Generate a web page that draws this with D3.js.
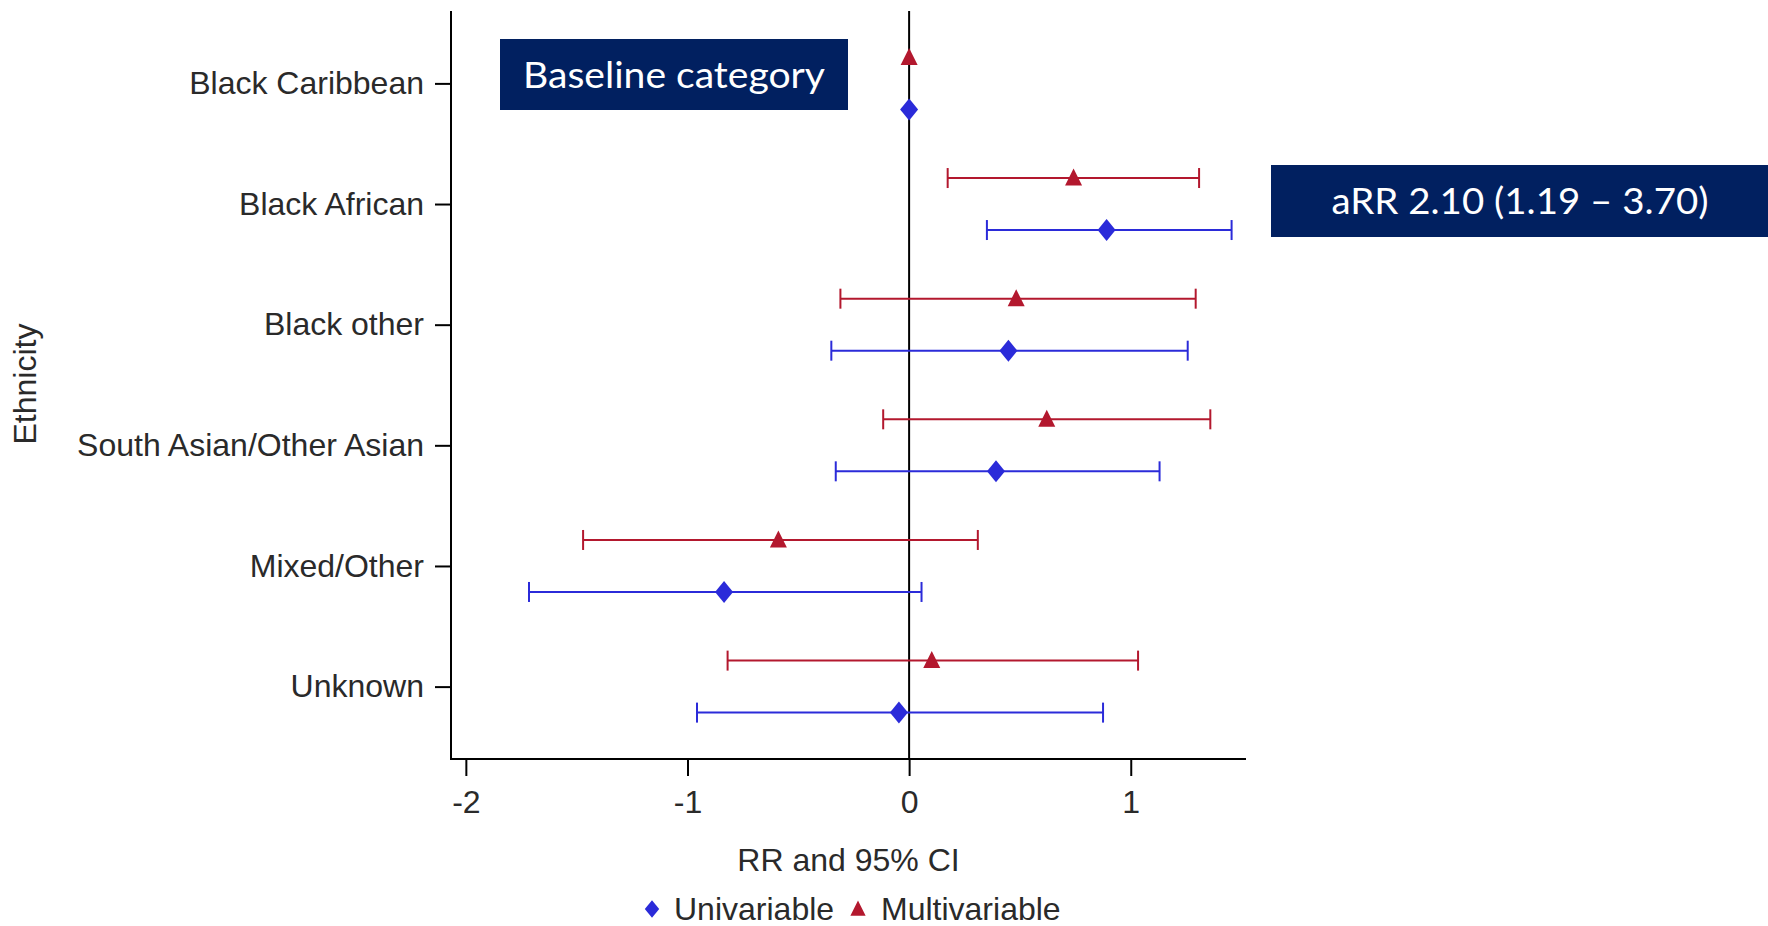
<!DOCTYPE html>
<html>
<head>
<meta charset="utf-8">
<script src="https://cdn.jsdelivr.net/npm/d3@7"></script>
<style>
  html, body { margin: 0; padding: 0; background: #fff; }
  svg { display: block; }
</style>
</head>
<body>
<svg id="chart" width="1768" height="926"></svg>
<script>
// Ethnicity categories (top to bottom)
const categories = ["Black Caribbean", "Black African", "Black other",
                    "South Asian/Other Asian", "Mixed/Other", "Unknown"];

// log RR estimates with 95% CI bounds; baseline has no interval
const uniEst = [0, 0.891, 0.448, 0.392, -0.835, -0.046];
const uniLo  = [null, 0.351, -0.351, -0.331, -1.715, -0.957];
const uniHi  = [null, 1.455, 1.257, 1.130, 0.056, 0.875];

const multiEst = [0, Math.log(2.10), 0.483, 0.621, -0.590, 0.102];
const multiLo  = [null, Math.log(1.19), -0.310, -0.117, -1.471, -0.819];
const multiHi  = [null, Math.log(3.70), 1.293, 1.359, 0.310, 1.033];

const xTicks = [-2, -1, 0, 1];
const xDomain = [-2.067, 1.52];

const seriesNames = ["Univariable", "Multivariable"];
const baselineNote = "Baseline category";
const aRRNote = "aRR 2.10 (1.19 \u2013 3.70)";

const blue = "#2b2bd9";
const red = "#b3182e";
const navy = "#012060";
const textColor = "#2a2a2a";
const axisFont = "'Liberation Sans', Arial, sans-serif";
const noteFont = "Lato, 'Open Sans', sans-serif";
const axisSize = 32;

const svg = d3.select("#chart");
const plotLeft = 451, plotRight = 1246, plotTop = 11, plotBottom = 759;

const x = d3.scaleLinear().domain(xDomain).range([plotLeft, plotRight]);
const y = d3.scalePoint().domain(categories).range([plotTop, plotBottom]).padding(0.6);
const off = 26;

// Axes
const yAxis = d3.axisLeft(y).tickSize(16).tickPadding(11);
const gy = svg.append("g").attr("transform", `translate(${plotLeft},0)`).call(yAxis);
gy.select(".domain").remove();
gy.selectAll(".tick line").attr("stroke", "#000").attr("stroke-width", 2);
gy.selectAll(".tick text").attr("font-family", axisFont).attr("font-size", axisSize)
  .attr("fill", textColor);

const xAxis = d3.axisBottom(x).tickValues(xTicks).tickSize(17).tickPadding(14)
  .tickFormat(d => d < 0 ? "-" + Math.abs(d) : String(d));
const gx = svg.append("g").attr("transform", `translate(0,${plotBottom})`).call(xAxis);
gx.select(".domain").remove();
gx.selectAll(".tick line").attr("stroke", "#000").attr("stroke-width", 2);
gx.selectAll(".tick text").attr("font-family", axisFont).attr("font-size", axisSize)
  .attr("fill", textColor);

// Frame lines (left and bottom)
svg.append("line").attr("x1", plotLeft).attr("x2", plotLeft).attr("y1", plotTop).attr("y2", plotBottom + 1)
  .attr("stroke", "#000").attr("stroke-width", 2);
svg.append("line").attr("x1", plotLeft - 1).attr("x2", plotRight).attr("y1", plotBottom).attr("y2", plotBottom)
  .attr("stroke", "#000").attr("stroke-width", 2);

// Reference line at 0
svg.append("line").attr("x1", x(0)).attr("x2", x(0)).attr("y1", plotTop).attr("y2", plotBottom)
  .attr("stroke", "#000").attr("stroke-width", 2);

// Axis titles
svg.append("text").attr("x", (plotLeft + plotRight) / 2).attr("y", 871)
  .attr("text-anchor", "middle").attr("font-family", axisFont).attr("font-size", axisSize)
  .attr("fill", textColor).text("RR and 95% CI");
svg.append("text").attr("transform", "translate(36,384) rotate(-90)")
  .attr("text-anchor", "middle").attr("font-family", axisFont).attr("font-size", axisSize)
  .attr("fill", textColor).text("Ethnicity");

// Interval + marker shapes
const diamond = (cx, cy, s = 1) =>
  `M${cx},${cy - 11 * s}L${cx + 9 * s},${cy}L${cx},${cy + 11 * s}L${cx - 9 * s},${cy}Z`;
const triangle = (cx, cy, s = 1) =>
  `M${cx},${cy - 9.5 * s}L${cx + 8.5 * s},${cy + 7.5 * s}L${cx - 8.5 * s},${cy + 7.5 * s}Z`;

function drawSeries(est, lo, hi, dy, color, shape) {
  const g = svg.append("g");
  categories.forEach((c, i) => {
    const cy = y(c) + dy;
    if (lo[i] !== null) {
      g.append("line").attr("x1", x(lo[i])).attr("x2", x(hi[i])).attr("y1", cy).attr("y2", cy)
        .attr("stroke", color).attr("stroke-width", 2);
      [lo[i], hi[i]].forEach(v => {
        g.append("line").attr("x1", x(v)).attr("x2", x(v)).attr("y1", cy - 10).attr("y2", cy + 10)
          .attr("stroke", color).attr("stroke-width", 2);
      });
    }
    g.append("path").attr("d", shape(x(est[i]), cy)).attr("fill", color);
  });
}
drawSeries(multiEst, multiLo, multiHi, -off, red, triangle);
drawSeries(uniEst, uniLo, uniHi, off, blue, diamond);

// Legend
const legY = 909;
svg.append("path").attr("d", diamond(652, legY, 0.8)).attr("fill", blue);
svg.append("text").attr("x", 674).attr("y", legY + 11).attr("font-family", axisFont)
  .attr("font-size", axisSize).attr("fill", textColor).text(seriesNames[0]);
svg.append("path").attr("d", triangle(858, legY, 0.9)).attr("fill", red);
svg.append("text").attr("x", 881).attr("y", legY + 11).attr("font-family", axisFont)
  .attr("font-size", axisSize).attr("fill", textColor).text(seriesNames[1]);

// Annotation boxes
svg.append("rect").attr("x", 500).attr("y", 39).attr("width", 348).attr("height", 71).attr("fill", navy);
svg.append("text").attr("x", 674).attr("y", 88).attr("text-anchor", "middle")
  .attr("font-family", noteFont).attr("font-size", 37).attr("fill", "#fff")
  .attr("textLength", 302).attr("lengthAdjust", "spacingAndGlyphs").text(baselineNote);

svg.append("rect").attr("x", 1271).attr("y", 165).attr("width", 497).attr("height", 72).attr("fill", navy);
svg.append("text").attr("x", 1520).attr("y", 214).attr("text-anchor", "middle")
  .attr("font-family", noteFont).attr("font-size", 37).attr("fill", "#fff")
  .attr("textLength", 377).attr("lengthAdjust", "spacingAndGlyphs").text(aRRNote);
</script>
</body>
</html>
